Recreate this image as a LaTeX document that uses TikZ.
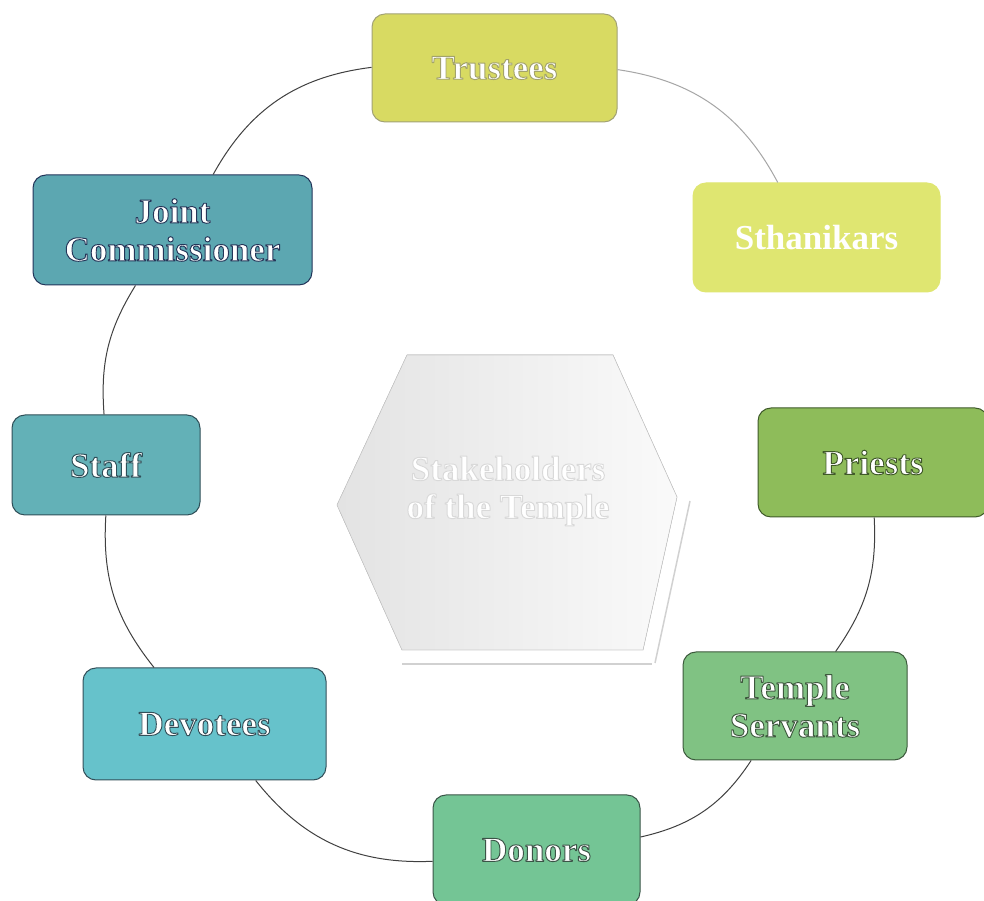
\documentclass[tikz,border=0pt]{standalone}
\usepackage{fontspec}
\setmainfont{Liberation Serif}
\definecolor{cTru}{HTML}{D8DA62}
\definecolor{cSth}{HTML}{DFE671}
\definecolor{cPri}{HTML}{8EBC5A}
\definecolor{cTs}{HTML}{80C283}
\definecolor{cDon}{HTML}{74C595}
\definecolor{cDev}{HTML}{66C2CB}
\definecolor{cSta}{HTML}{63B1B7}
\definecolor{cJc}{HTML}{5CA7B1}
\definecolor{eTru}{HTML}{7A7A3A}
\definecolor{ePri}{HTML}{3F5A2A}
\definecolor{eTs}{HTML}{3C5A3C}
\definecolor{eDon}{HTML}{3A5548}
\definecolor{eDev}{HTML}{33505A}
\definecolor{eSta}{HTML}{2F4F58}
\definecolor{eJc}{HTML}{23355A}
% outlined text: fill (white) + stroke in given RGB
\newcommand{\olt}[2]{\special{pdf:literal direct 1 j 2 Tr 0.95 w #1 RG}#2\special{pdf:literal direct 0 Tr}}
\begin{document}
\begin{tikzpicture}[x=1pt,y=1pt,
  box/.style={rectangle, rounded corners=13pt, line width=1pt, text=white,
    font=\bfseries\fontsize{35}{38}\selectfont, align=center, inner sep=0pt},
  arc/.style={draw=black!75, line width=1pt},
  faintarc/.style={draw=black!35, line width=1pt}]
\useasboundingbox (0,0) rectangle (984,901);
\fill[white] (0,0) rectangle (984,901);
% central hexagon
\fill[left color=black!11, right color=black!2, draw=black!20, line width=0.6pt]
  (407,546) -- (613,546) -- (677,404) -- (643,251) -- (402,251) -- (337,396) -- cycle;
\draw[black!18, line width=1.5pt] (690,400) -- (655,238);
\draw[black!18, line width=2pt] (402,237) -- (652,237);
\node[font=\bfseries\fontsize{35}{38}\selectfont, text=white, align=center] (hub) at (508,410)
  {\olt{0.85 0.85 0.85}{Stakeholders}\\\olt{0.85 0.85 0.85}{of the Temple}};
% stakeholder boxes
\node[box, fill=cTru, draw=eTru!70, minimum width=245pt, minimum height=108pt] (trustees) at (494.5,833) {\olt{0.64 0.64 0.42}{Trustees}};
\node[box, fill=cSth, draw=cSth, minimum width=247pt, minimum height=109pt] (sthanikars) at (816.5,663.5) {Sthanikars};
\node[box, fill=cPri, draw=ePri, minimum width=230pt, minimum height=109pt] (priests) at (873,438.5) {\olt{0.25 0.35 0.16}{Priests}};
\node[box, fill=cTs, draw=eTs, minimum width=224pt, minimum height=108pt] (servants) at (795,195) {\olt{0.24 0.35 0.24}{Temple}\\\olt{0.24 0.35 0.24}{Servants}};
\node[box, fill=cDon, draw=eDon, minimum width=207pt, minimum height=110pt] (donors) at (536.5,51) {\olt{0.23 0.33 0.28}{Donors}};
\node[box, fill=cDev, draw=eDev, minimum width=243pt, minimum height=112pt] (devotees) at (204.5,177) {\olt{0.2 0.31 0.35}{Devotees}};
\node[box, fill=cSta, draw=eSta, minimum width=188pt, minimum height=100pt] (staff) at (106,436) {\olt{0.18 0.31 0.35}{Staff}};
\node[box, fill=cJc, draw=eJc, minimum width=279pt, minimum height=110pt] (jc) at (172.5,671) {\olt{0.14 0.21 0.35}{Joint}\\\olt{0.14 0.21 0.35}{Commissioner}};
% ring connectors
\draw[faintarc] (trustees) to[bend left=27] (sthanikars);
\draw[arc] (priests) to[bend left=19] (servants);
\draw[arc] (servants) to[bend left=22] (donors);
\draw[arc] (donors) to[bend left=27] (devotees);
\draw[arc] (devotees) to[bend left=21] (staff);
\draw[arc] (staff) to[bend left=18] (jc);
\draw[arc] (jc) to[bend left=27] (trustees);
\end{tikzpicture}
\end{document}
